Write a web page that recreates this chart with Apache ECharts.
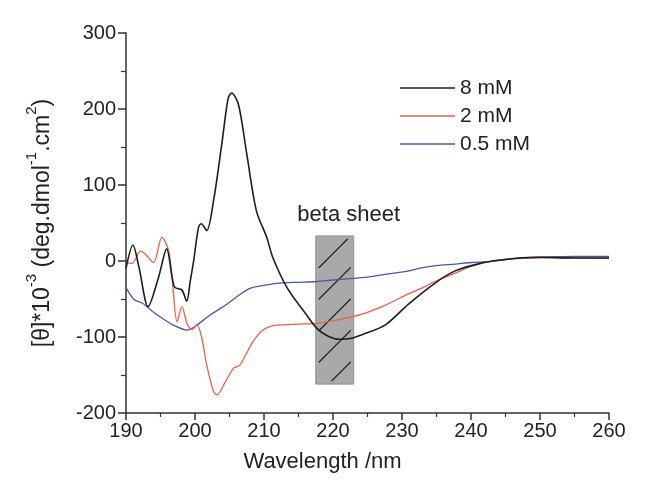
<!DOCTYPE html>
<html>
<head>
<meta charset="utf-8">
<script src="https://cdn.jsdelivr.net/npm/echarts@6/dist/echarts.min.js"></script>
<style>
html,body{margin:0;padding:0;background:#fff;}
#chart{width:646px;height:486px;}
</style>
</head>
<body>
<div id="chart"></div>
<script>
// ---- data ----
var seriesNames = ['8 mM', '2 mM', '0.5 mM'];

var wl8 = [190, 191, 191.9, 193.2, 194.7, 195.9, 196.7, 197.1, 198.1, 198.8, 199.3, 199.8, 200.5, 200.9, 201.7, 202.7, 203.9, 204.8, 205.3, 206.3, 207.5, 208.9, 210.4, 211.3, 213.4, 216.1, 217.7, 219.3, 220.9, 222.5, 224.2, 227.6, 230.9, 234.8, 237.7, 241.4, 244, 247, 250, 255, 260];
var val8 = [-10, 21, -9, -60, -22, 16, -22, -35, -38, -53, -27, 0, 44, 49, 40, 80, 155, 214, 221, 206, 141, 66, 31, 4, -36, -70, -89, -99, -103, -102, -97, -84, -57, -29, -13, -3, 1, 4, 5, 4, 4];

var wl2 = [190, 190.9, 192.1, 192.8, 194, 195.2, 196.2, 196.8, 197.4, 198.1, 198.9, 199.6, 200.3, 201, 201.7, 202.7, 203.2, 204.4, 205.6, 206.5, 207.2, 208.4, 209.8, 211, 212.3, 215, 217.6, 220.9, 224.2, 227.6, 231, 232.8, 235, 237.7, 240, 242.4, 245, 250, 255, 260];
var val2 = [-2, -3, 13, 9, -2, 31, 13, -35, -80, -60, -84, -90, -84, -102, -137, -172, -176, -159, -141, -137, -126, -106, -91, -86, -84, -83, -82, -77, -70, -58, -43, -36, -26, -16, -7, -1, 2, 4, 4, 4];

var wl05 = [190, 191.2, 192.3, 193.8, 195.2, 197, 198.9, 200.3, 202.2, 204.6, 206.5, 208, 210, 212.3, 215, 217.6, 220, 224.2, 228, 231, 232.8, 235, 237.7, 240, 242.4, 245, 247, 250, 255, 260];
var val05 = [-35, -51, -55, -66, -75, -85, -91, -84, -71, -57, -44, -36, -32, -29, -28, -27, -25, -22, -17, -13, -9, -6, -4, -2, -1, 2, 4, 5, 6, 6];

// beta sheet region: [wlStart, wlEnd, valLow, valHigh]
var betaRegion = [217.5, 223, -162, 33];
var betaLabel = 'beta sheet';

var xTicks = {min: 190, max: 260, interval: 10};
var yTicks = {min: -200, max: 300, interval: 100};

function pairs(xs, ys) { return xs.map(function (x, i) { return [x, ys[i]]; }); }

var FONT = 'Liberation Sans, Arial, sans-serif';
var chart = echarts.init(document.getElementById('chart'), null, {renderer: 'canvas'});

var option = {
  backgroundColor: '#fff',
  animation: false,
  textStyle: {fontFamily: FONT},
  grid: {left: 126, right: 37, top: 33, bottom: 73},
  legend: {
    data: seriesNames,
    orient: 'vertical',
    left: 395, top: 72,
    icon: 'rect',
    itemWidth: 55, itemHeight: 1.5, itemGap: 6,
    textStyle: {fontSize: 21, color: '#222', fontFamily: FONT, lineHeight: 22}
  },
  xAxis: {
    type: 'value', min: xTicks.min, max: xTicks.max, interval: xTicks.interval,
    name: 'Wavelength /nm', nameLocation: 'middle', nameGap: 38,
    nameTextStyle: {fontSize: 22, color: '#222', padding: [0, 90, 0, 0]},
    axisLine: {show: true, onZero: false, lineStyle: {color: '#333', width: 1.5}},
    axisTick: {show: true, length: 7, lineStyle: {color: '#333', width: 1.5}},
    minorTick: {show: true, splitNumber: 2, length: 4, lineStyle: {color: '#333', width: 1.2}},
    axisLabel: {fontSize: 20, color: '#222', margin: 8},
    splitLine: {show: false}
  },
  yAxis: {
    type: 'value', min: yTicks.min, max: yTicks.max, interval: yTicks.interval,
    name: '{n|[θ]*10}{s|-3}{n| (deg.dmol}{s|-1}{n|.cm}{s|2}{n|)}', nameLocation: 'middle', nameGap: 66,
    nameTextStyle: {fontSize: 23, color: '#222',
      rich: {
        n: {fontSize: 23, color: '#222', fontFamily: FONT, height: 30, verticalAlign: 'bottom', padding: [0, 0, 2, 0]},
        s: {fontSize: 15, color: '#222', fontFamily: FONT, height: 30, verticalAlign: 'bottom', padding: [0, 0, 13, 0]}
      }},
    axisLine: {show: true, onZero: false, lineStyle: {color: '#333', width: 1.5}},
    axisTick: {show: true, length: 8, lineStyle: {color: '#333', width: 1.5}},
    minorTick: {show: true, splitNumber: 2, length: 5, lineStyle: {color: '#333', width: 1.2}},
    axisLabel: {fontSize: 20, color: '#222', margin: 10},
    splitLine: {show: false}
  },
  series: [
    {
      type: 'custom', name: 'beta', silent: true, z: 1,
      data: [betaRegion],
      renderItem: function (params, api) {
        var p0 = api.coord([api.value(0), api.value(3)]);
        var p1 = api.coord([api.value(1), api.value(2)]);
        var L = p0[0], T = p0[1], R = p1[0], B = p1[1];
        var children = [{
          type: 'rect', shape: {x: L, y: T, width: R - L, height: B - T},
          style: {fill: '#a9a9a9', stroke: '#8f8f8f', lineWidth: 1}
        }];
        var inset = 3, step = 31.5;
        var c0 = R + T - 3;
        for (var c = c0; c < L + B + step; c += step) {
          var xa = Math.max(L + inset, c - (B - inset));
          var xb = Math.min(R - inset, c - (T + inset));
          if (xb - xa > 2) {
            children.push({type: 'line', shape: {x1: xa, y1: c - xa, x2: xb, y2: c - xb},
              style: {stroke: '#111', lineWidth: 1.2}});
          }
        }
        children.push({type: 'text', style: {text: betaLabel, x: (L + R) / 2 + 14, y: T - 10,
          textAlign: 'center', textVerticalAlign: 'bottom', fontSize: 22, fill: '#222', fontFamily: FONT}});
        return {type: 'group', children: children};
      }
    },
    {name: seriesNames[0], type: 'line', data: pairs(wl8, val8), symbol: 'none', smooth: 0.3, z: 5,
      lineStyle: {color: '#1e1e1e', width: 1.6}, itemStyle: {color: '#1e1e1e'}},
    {name: seriesNames[1], type: 'line', data: pairs(wl2, val2), symbol: 'none', smooth: 0.3, z: 4,
      lineStyle: {color: '#e2624a', width: 1.3}, itemStyle: {color: '#e2624a'}},
    {name: seriesNames[2], type: 'line', data: pairs(wl05, val05), symbol: 'none', smooth: 0.3, z: 3,
      lineStyle: {color: '#4a58a6', width: 1.3}, itemStyle: {color: '#4a58a6'}}
  ]
};
chart.setOption(option);
</script>
</body>
</html>
